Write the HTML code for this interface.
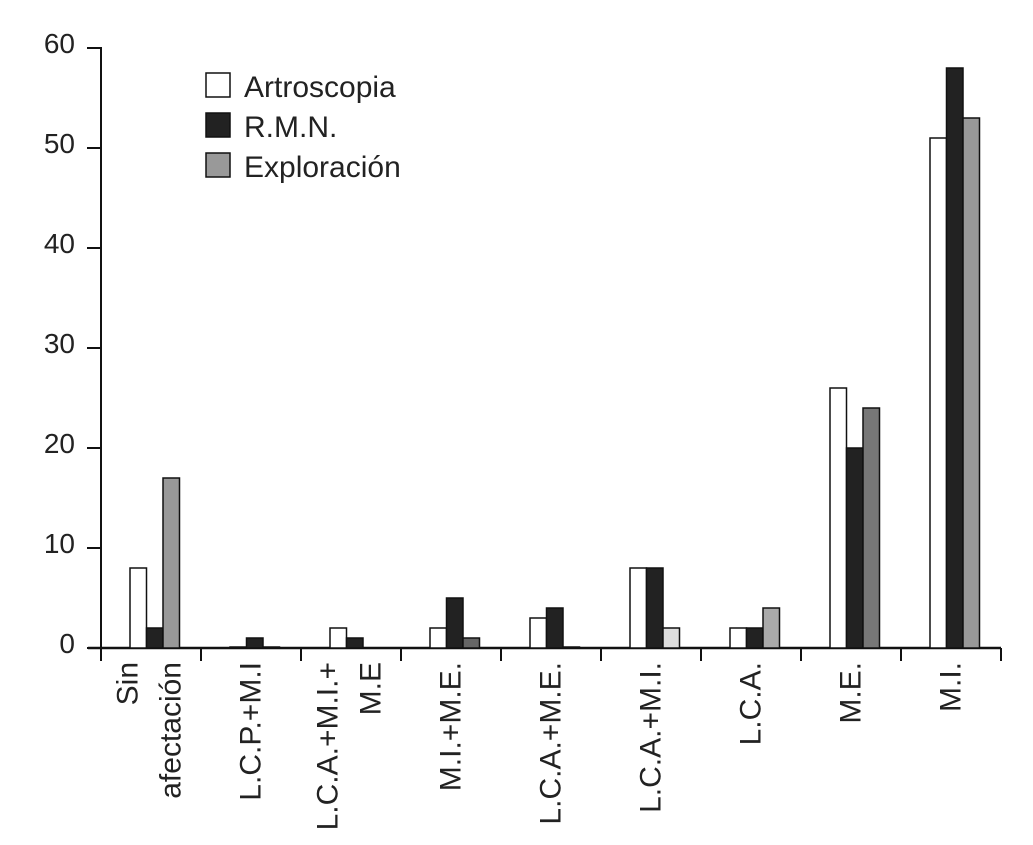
<!DOCTYPE html>
<html><head><meta charset="utf-8"><style>
body{margin:0;background:#fff}
svg{display:block;font-family:"Liberation Sans",sans-serif}
</style></head><body>
<svg id="c" width="1033" height="845"></svg>
<script>
const categories=[["Sin","afectación"],["L.C.P.+M.I"],["L.C.A.+M.I.+","M.E"],["M.I.+M.E."],["L.C.A.+M.E."],["L.C.A.+M.I."],["L.C.A."],["M.E."],["M.I."]];
const artroscopia=[8,0.1,2,2,3,8,2,26,51];
const rmn=[2,1,1,5,4,8,2,20,58];
const exploracion=[17,0.1,0,1,0.1,2,4,24,53];
const yTicks=[0,10,20,30,40,50,60];
const seriesNames=["Artroscopia","R.M.N.","Exploración"];
const greyFills=["#999","#999","#999","#666","#999","#ddd","#aaa","#777","#999"];
const NS="http://www.w3.org/2000/svg";
const svg=document.getElementById('c');
const x0=101,y0=648,cw=100,ppu=10,bw=16.5,off=29;
const y=v=>y0-v*ppu, xc=i=>x0+i*cw;
function mk(t,a,p){const e=document.createElementNS(NS,t);for(const k in a)e.setAttribute(k,a[k]);(p||svg).appendChild(e);return e;}
const ax=mk('line',{x1:x0,y1:47,x2:x0,y2:y0,stroke:'#111','stroke-width':2});


const xa=mk('line',{x1:88,y1:y0,x2:1001,y2:y0,stroke:'#111','stroke-width':2.5});


yTicks.forEach(t=>{
  mk('line',{x1:87,y1:y(t),x2:x0,y2:y(t),stroke:'#111','stroke-width':2});
  const tx=mk('text',{x:75,y:y(t)+5,'text-anchor':'end','font-size':28,fill:'#222'});
  tx.textContent=t;
  
  
});
for(let i=0;i<=categories.length;i++){mk('line',{x1:xc(i),y1:y0,x2:xc(i),y2:y0+13,stroke:'#111','stroke-width':2});}
const series=[artroscopia,rmn,exploracion];
categories.forEach((c,i)=>{
  series.forEach((s,j)=>{
    const v=s[i];
    const fill=j===0?'#fff':j===1?'#222':greyFills[i];
    const r=mk('rect',{x:xc(i)+off+j*bw,y:y(v),width:bw,height:v*ppu,fill:fill,stroke:'#111','stroke-width':1.5});
    
    
  });
  const n=c.length;
  c.forEach((line,k)=>{
    const cx=n===1?xc(i)+50:xc(i)+27+k*43;
    const t=mk('text',{transform:`translate(${cx},662) rotate(-90)`,'text-anchor':'end','dominant-baseline':'central','font-size':30,fill:'#222'});
    t.textContent=line;
    
    
  });
});
const lf=['#fff','#222','#999'];
seriesNames.forEach((n,j)=>{
  const g=mk('g',{});
  
  
  mk('rect',{x:206,y:73+j*40,width:24,height:24,fill:lf[j],stroke:'#111','stroke-width':1.5},g);
  const t=mk('text',{x:244,y:97+j*40,'font-size':30,fill:'#222'},g);
  t.textContent=n;
});
</script>
</body></html>
